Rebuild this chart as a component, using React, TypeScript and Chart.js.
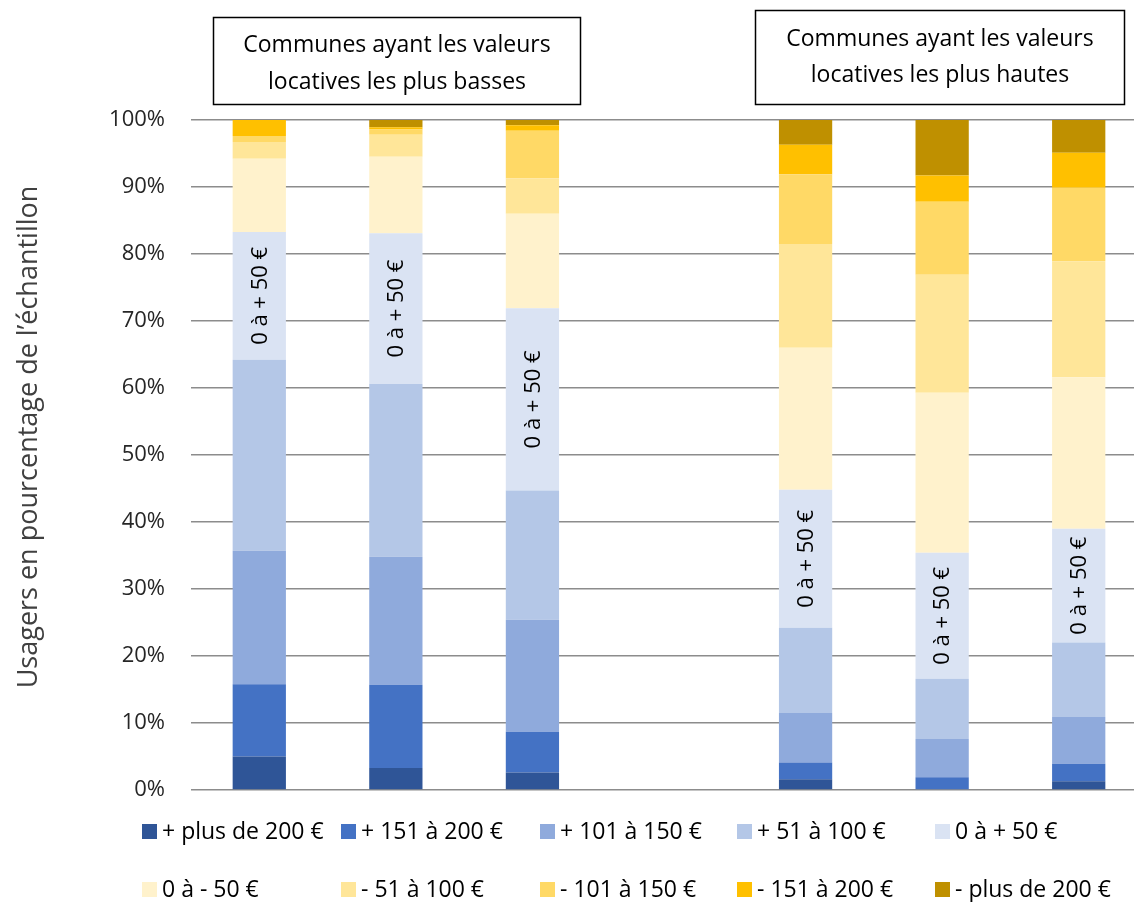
import React, { useEffect, useRef } from "react";
import { Chart, registerables } from "chart.js";

Chart.register(...registerables);

const categories = ["", "", "", "", "", "", ""];
const seriesLabels = [
  "+ plus de 200 €",
  "+ 151 à 200 €",
  "+ 101 à 150 €",
  "+ 51 à 100 €",
  "0 à + 50 €",
  "0 à - 50 €",
  "- 51 à 100 €",
  "- 101 à 150 €",
  "- 151 à 200 €",
  "- plus de 200 €",
];
const seriesColors = [
  "#2F5597",
  "#4472C4",
  "#8FAADC",
  "#B4C7E7",
  "#DAE3F3",
  "#FFF2CC",
  "#FFE699",
  "#FFD966",
  "#FFC000",
  "#BF9000",
];

const plus200Pos = [5.0, 3.3, 2.6, null, 1.6, 0, 1.3];
const plus151 = [10.8, 12.4, 6.1, null, 2.5, 1.9, 2.6];
const plus101 = [19.9, 19.1, 16.7, null, 7.4, 5.7, 7.0];
const plus51 = [28.5, 25.8, 19.3, null, 12.7, 9.0, 11.1];
const plus0 = [19.1, 22.5, 27.2, null, 20.6, 18.8, 17.0];
const minus0 = [10.9, 11.4, 14.1, null, 21.2, 23.9, 22.6];
const minus51 = [2.5, 3.3, 5.3, null, 15.5, 17.6, 17.3];
const minus101 = [0.9, 0.8, 7.1, null, 10.4, 10.9, 11.0];
const minus151 = [2.4, 0.3, 0.8, null, 4.4, 3.9, 5.2];
const minus200 = [0, 1.1, 0.8, null, 3.7, 8.3, 4.9];

const seriesValues = [plus200Pos, plus151, plus101, plus51, plus0, minus0, minus51, minus101, minus151, minus200];

const yTicks = [0, 10, 20, 30, 40, 50, 60, 70, 80, 90, 100];
const yTitle = "Usagers en pourcentage de l’échantillon";
const boxTextLow = ["Communes ayant les valeurs", "locatives les plus basses"];
const boxTextHigh = ["Communes ayant les valeurs", "locatives les plus hautes"];
const segmentLabel = "0 à + 50 €";
const labelledSeries = 4;

const FONT = "'Open Sans', 'Noto Sans', sans-serif";

const overlayPlugin = {
  id: "overlay",
  afterDatasetsDraw(chart: any) {
    const ctx = chart.ctx;
    const meta = chart.getDatasetMeta(labelledSeries);
    ctx.save();
    ctx.fillStyle = "#000";
    ctx.font = `22px ${FONT}`;
    ctx.textAlign = "center";
    ctx.textBaseline = "middle";
    meta.data.forEach((bar: any, i: number) => {
      const v = seriesValues[labelledSeries][i];
      if (v == null || v <= 0) return;
      const cy = (bar.y + bar.base) / 2;
      ctx.save();
      ctx.translate(bar.x, cy);
      ctx.rotate(-Math.PI / 2);
      ctx.fillText(segmentLabel, 0, 1);
      ctx.restore();
    });
    ctx.restore();
  },
  afterDraw(chart: any) {
    const ctx = chart.ctx;
    ctx.save();
    // y axis title
    ctx.fillStyle = "#404040";
    ctx.font = `27px ${FONT}`;
    ctx.textAlign = "center";
    ctx.textBaseline = "middle";
    ctx.save();
    ctx.translate(29, 437);
    ctx.rotate(-Math.PI / 2);
    ctx.fillText(yTitle, 0, 0);
    ctx.restore();

    // header boxes
    const drawBox = (x: number, y: number, w: number, h: number, lines: string[], y1: number, y2: number) => {
      ctx.fillStyle = "#fff";
      ctx.fillRect(x, y, w, h);
      ctx.strokeStyle = "#000";
      ctx.lineWidth = 1.5;
      ctx.strokeRect(x, y, w, h);
      ctx.fillStyle = "#000";
      ctx.font = `23px ${FONT}`;
      ctx.textAlign = "center";
      ctx.textBaseline = "middle";
      ctx.fillText(lines[0], x + w / 2, y1);
      ctx.fillText(lines[1], x + w / 2, y2);
    };
    drawBox(213.5, 17.5, 367, 87, boxTextLow, 45, 82);
    drawBox(755.5, 10.5, 369, 94, boxTextHigh, 39, 75);

    // legend
    const cols = [142, 341, 540, 737, 935];
    const rows = [831, 889];
    ctx.font = `23px ${FONT}`;
    ctx.textAlign = "left";
    ctx.textBaseline = "middle";
    seriesLabels.forEach((lab, i) => {
      const r = Math.floor(i / 5);
      const c = i % 5;
      const x = cols[c];
      const y = rows[r];
      ctx.fillStyle = seriesColors[i];
      ctx.fillRect(x, y - 7, 15, 15);
      ctx.fillStyle = "#000";
      ctx.fillText(lab, x + 20, y + 1);
    });
    ctx.restore();
  },
};

export default function App() {
  const ref = useRef<HTMLCanvasElement | null>(null);

  useEffect(() => {
    if (!ref.current) return;
    const chart = new Chart(ref.current, {
      type: "bar",
      data: {
        labels: categories,
        datasets: seriesLabels.map((lab, i) => ({
          label: lab,
          data: seriesValues[i],
          backgroundColor: seriesColors[i],
          borderWidth: 0,
          barPercentage: 0.39,
          categoryPercentage: 1,
        })),
      },
      options: {
        animation: false,
        responsive: false,
        devicePixelRatio: 1,
        layout: { padding: { top: 120, bottom: 112, left: 0, right: 0 } },
        plugins: {
          legend: { display: false },
          tooltip: { enabled: false },
          title: { display: false },
        },
        scales: {
          x: {
            stacked: true,
            display: false,
          },
          y: {
            stacked: true,
            min: 0,
            max: 100,
            afterFit(scale: any) {
              scale.width = 191;
            },
            afterBuildTicks(scale: any) {
              scale.ticks = yTicks.map((v) => ({ value: v }));
            },
            border: { display: false },
            grid: { color: "#8c8c8c", lineWidth: 1.5, drawTicks: false },
            ticks: {
              padding: 26,
              color: "#262626",
              font: { family: FONT, size: 22 },
              callback: (v: any) => `${v}%`,
            },
          },
        },
      },
      plugins: [overlayPlugin],
    });
    return () => chart.destroy();
  }, []);

  return (
    <div style={{ position: "fixed", left: 0, top: 0, width: 1134, height: 902, overflow: "hidden", background: "#fff" }}>
      <canvas ref={ref} width={1147} height={902} style={{ display: "block", width: 1147, height: 902 }} />
    </div>
  );
}
